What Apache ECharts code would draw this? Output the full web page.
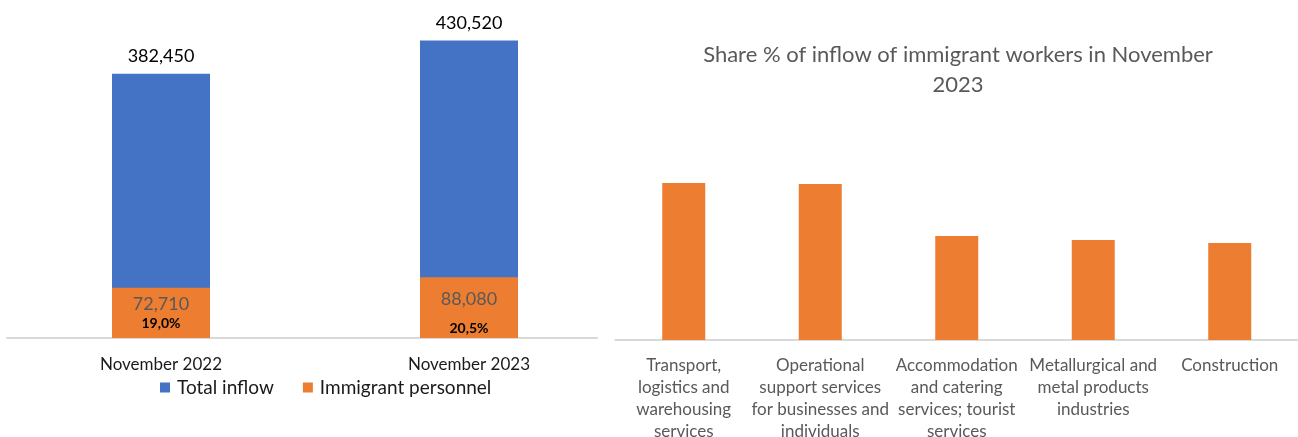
<!DOCTYPE html>
<html>
<head>
<meta charset="utf-8">
<script src="https://cdn.jsdelivr.net/npm/echarts@6/dist/echarts.min.js"></script>
<style>
html,body{margin:0;padding:0;background:#fff;}
#chart{width:1298px;height:437px;}
</style>
</head>
<body>
<div id="chart"></div>
<script>
// ---- Data ----
const periods = ['November 2022', 'November 2023'];
const totalInflow = [382450, 430520];
const immigrantPersonnel = [72710, 88080];
const immigrantShare = ['19,0%', '20,5%'];

const sectors = [
  'Transport,\nlogistics and\nwarehousing\nservices',
  'Operational\nsupport services\nfor businesses and\nindividuals',
  'Accommodation\nand catering\nservices; tourist\nservices',
  'Metallurgical and\nmetal products\nindustries',
  'Construction'
];
const sectorShare = [15.7, 15.6, 10.4, 10.0, 9.7];

const rightTitle = 'Share % of inflow of immigrant workers in November\n2023';

// ---- Styling ----
const FONT = 'Lato';
const BLUE = '#4472C4';
const ORANGE = '#ED7D31';
const fmt = v => v.toLocaleString('en-US');

// per-item label layout for the orange segments
const orangeLabelLayout = [
  { distance: 6, lhB: 20 },
  { distance: 12, lhB: 38 }
];

const orangeData = immigrantPersonnel.map((v, i) => ({
  value: v,
  label: {
    distance: orangeLabelLayout[i].distance,
    formatter: '{a|' + fmt(v) + '}\n{b|' + immigrantShare[i] + '}',
    rich: {
      a: { fontFamily: FONT, fontSize: 18, color: '#595959', lineHeight: 20, align: 'center' },
      b: { fontFamily: FONT, fontSize: 14, fontWeight: 'bold', color: '#000', lineHeight: orangeLabelLayout[i].lhB, align: 'center' }
    }
  }
}));

const chart = echarts.init(document.getElementById('chart'), null, { renderer: 'canvas' });

chart.setOption({
  animation: false,
  backgroundColor: '#fff',
  textStyle: { fontFamily: FONT },
  title: {
    text: rightTitle,
    left: 958,
    top: 40,
    padding: 0,
    textAlign: 'center',
    textStyle: { fontFamily: FONT, fontSize: 22, fontWeight: 'normal', color: '#595959', lineHeight: 30 }
  },
  legend: {
    data: ['Total inflow', 'Immigrant personnel'],
    left: 160,
    top: 378,
    padding: 0,
    itemWidth: 10,
    itemHeight: 10,
    itemGap: 29,
    icon: 'rect',
    textStyle: { fontFamily: FONT, fontSize: 19, color: '#1a1a1a', padding: [0, 0, 0, 2] }
  },
  grid: [
    { left: 7, width: 616, top: 27, bottom: 99, containLabel: false, outerBoundsMode: 'none' },
    { left: 615.5, right: 0, top: 100, bottom: 97, containLabel: false, outerBoundsMode: 'none' },
    { left: 7, width: 590, top: 27, bottom: 99, containLabel: false, outerBoundsMode: 'none' }
  ],
  xAxis: [
    {
      gridIndex: 0, type: 'category', data: periods,
      axisLine: { show: false }, axisTick: { show: false },
      axisLabel: { fontFamily: FONT, fontSize: 17, color: '#1a1a1a', margin: 16, lineHeight: 22 }
    },
    {
      gridIndex: 1, type: 'category', data: sectors,
      axisLine: { show: true, lineStyle: { color: '#d9d9d9', width: 2 } },
      axisTick: { show: false },
      axisLabel: { fontFamily: FONT, fontSize: 17, color: '#595959', margin: 15, lineHeight: 22, interval: 0, hideOverlap: false }
    },
    {
      gridIndex: 2, type: 'category', data: ['', ''],
      axisLine: { show: true, lineStyle: { color: '#d9d9d9', width: 2 } },
      axisTick: { show: false }, axisLabel: { show: false }
    }
  ],
  yAxis: [
    { gridIndex: 0, type: 'value', min: 0, max: 450000, show: false, splitLine: { show: false } },
    { gridIndex: 1, type: 'value', min: 0, max: 24, show: false, splitLine: { show: false } },
    { gridIndex: 2, type: 'value', min: 0, max: 1, show: false, splitLine: { show: false } }
  ],
  series: [
    {
      name: 'Total inflow', type: 'bar', xAxisIndex: 0, yAxisIndex: 0,
      data: totalInflow, barWidth: 98,
      itemStyle: { color: BLUE },
      label: { show: true, position: 'top', distance: 8, fontFamily: FONT, fontSize: 18, color: '#000', formatter: p => fmt(p.value) }
    },
    {
      name: 'Immigrant personnel', type: 'bar', xAxisIndex: 0, yAxisIndex: 0,
      data: orangeData, barWidth: 98, barGap: '-100%',
      itemStyle: { color: ORANGE },
      label: { show: true, position: 'insideTop' }
    },
    {
      name: 'Share', type: 'bar', xAxisIndex: 1, yAxisIndex: 1,
      data: sectorShare, barWidth: 43,
      itemStyle: { color: ORANGE }
    }
  ]
});
</script>
</body>
</html>
